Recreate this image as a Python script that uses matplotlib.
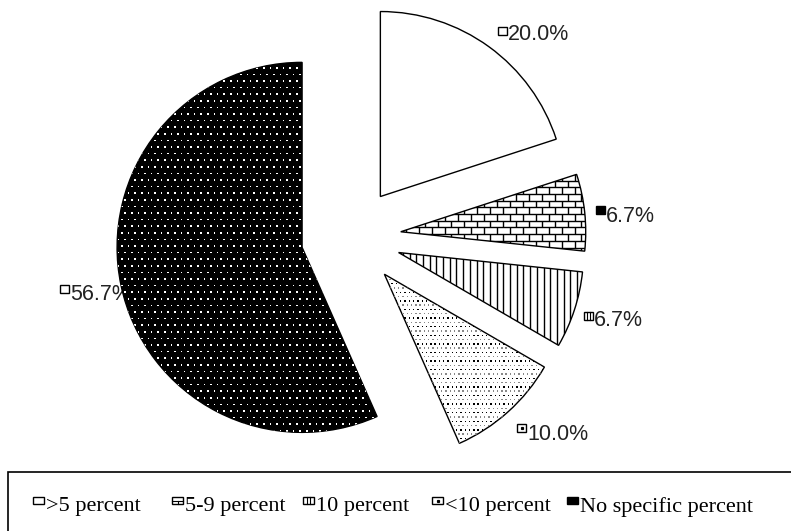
import matplotlib.pyplot as plt
import numpy as np
from matplotlib.patches import Rectangle
from matplotlib.collections import LineCollection

# Share of respondents by target percent
categories = [">5 percent", "5-9 percent", "10 percent", "<10 percent", "No specific percent"]
shares = [20.0, 6.7, 6.7, 10.0, 56.7]
pct_labels = ["20.0%", "6.7%", "6.7%", "10.0%", "56.7%"]

W, H = 791, 531
fig = plt.figure(figsize=(W / 100, H / 100), dpi=100)
ax = fig.add_axes([0, 0, 1, 1])

R = 185
cx, cy = 351, H - 237
wedges, _ = ax.pie(shares, explode=[50] * 5, startangle=90, counterclock=False,
                   center=(cx, cy), radius=R,
                   wedgeprops=dict(linewidth=1.0, edgecolor="black", facecolor="white"))
ax.set_xlim(0, W)
ax.set_ylim(0, H)
ax.set_aspect("equal")
ax.axis("off")


def wedge_box(w):
    x, y = w.center
    return x - R - 5, x + R + 5, y - R - 5, y + R + 5


def brick(w):
    x0, x1, y0, y1 = wedge_box(w)
    step, bw = 6.7, 13.0
    segs = []
    for k, yy in enumerate(np.arange(y0, y1, step)):
        segs.append([(x0, yy), (x1, yy)])
        off = (k % 2) * bw / 2
        for xx in np.arange(x0 + off, x1, bw):
            segs.append([(xx, yy), (xx, yy + step)])
    lc = LineCollection(segs, colors="black", linewidths=1.0)
    ax.add_collection(lc)
    lc.set_clip_path(w)


def vlines(w):
    x0, x1, y0, y1 = wedge_box(w)
    segs = [[(xx, y0), (xx, y1)] for xx in np.arange(x0, x1, 6.7)]
    lc = LineCollection(segs, colors="black", linewidths=1.0)
    ax.add_collection(lc)
    lc.set_clip_path(w)


def dots(w, step, color, size, alt=None):
    x0, x1, y0, y1 = wedge_box(w)
    xs, ys, cs = [], [], []
    for k, yy in enumerate(np.arange(y0, y1, step)):
        off = (k % 2) * step / 2
        for xx in np.arange(x0 + off, x1, step):
            xs.append(xx)
            ys.append(yy)
            cs.append(alt if (alt and k % 2) else color)
    sc = ax.scatter(xs, ys, s=size, c=cs, marker="s", linewidths=0, zorder=3)
    sc.set_clip_path(w)


# fills / textures
brick(wedges[1])
vlines(wedges[2])
dots(wedges[3], 4.3, "black", 1.0, alt="#888888")
wedges[4].set_facecolor("black")
dots(wedges[4], 6.6, "white", 1.3)
for w in wedges:
    w.set_zorder(2)


def key(x, y_top, style, kw=10, kh=8):
    # small key square, x = left edge, y_top = top edge in image pixels
    y = H - y_top - kh
    fc = "black" if style == "black" else "white"
    ax.add_patch(Rectangle((x, y), kw, kh, facecolor=fc, edgecolor="black",
                           linewidth=1.0, zorder=5))
    if style == "brick":
        ax.plot([x, x + kw], [y + kh / 2] * 2, color="black", lw=0.8, zorder=6)
        ax.plot([x + kw / 2] * 2, [y, y + kh / 2], color="black", lw=0.8, zorder=6)
    elif style == "vlines":
        for f in (0.35, 0.65):
            ax.plot([x + kw * f] * 2, [y, y + kh], color="black", lw=0.8, zorder=6)
    elif style == "dots":
        ax.plot([x + kw / 2], [y + kh / 2], marker="s", ms=1.3, color="black", zorder=6)


styles = ["white", "brick", "vlines", "dots", "black"]

# percentage labels: (key x, key top, text centre y) in image pixels
label_pos = [(498, 27, 35), (596, 206, 217), (584, 312, 320), (517, 424, 434), (60, 285, 295)]
label_keys = ["white", "black", "vlines", "dots", "white"]
for (lx, kt, ly), st, txt in zip(label_pos, label_keys, pct_labels):
    key(lx, kt, st, kw=9, kh=8)
    ax.text(lx + 10, H - ly, txt, fontsize=15.5, family="Liberation Sans",
            ha="left", va="center", color="#222222", zorder=1.5)

# legend box along the bottom
ax.add_patch(Rectangle((8, -20), W + 20, H - 472 + 20, facecolor="white",
                       edgecolor="black", linewidth=1.2, zorder=4, clip_on=False))
leg_x = [33, 172, 303, 432, 567]
for lx, st, name in zip(leg_x, styles, categories):
    key(lx, 497, st, kw=11, kh=7)
    ax.text(lx + 13, H - 507, name, fontsize=16, family="Liberation Serif",
            ha="left", va="center", zorder=6)

fig.savefig("out.png", dpi=100)
